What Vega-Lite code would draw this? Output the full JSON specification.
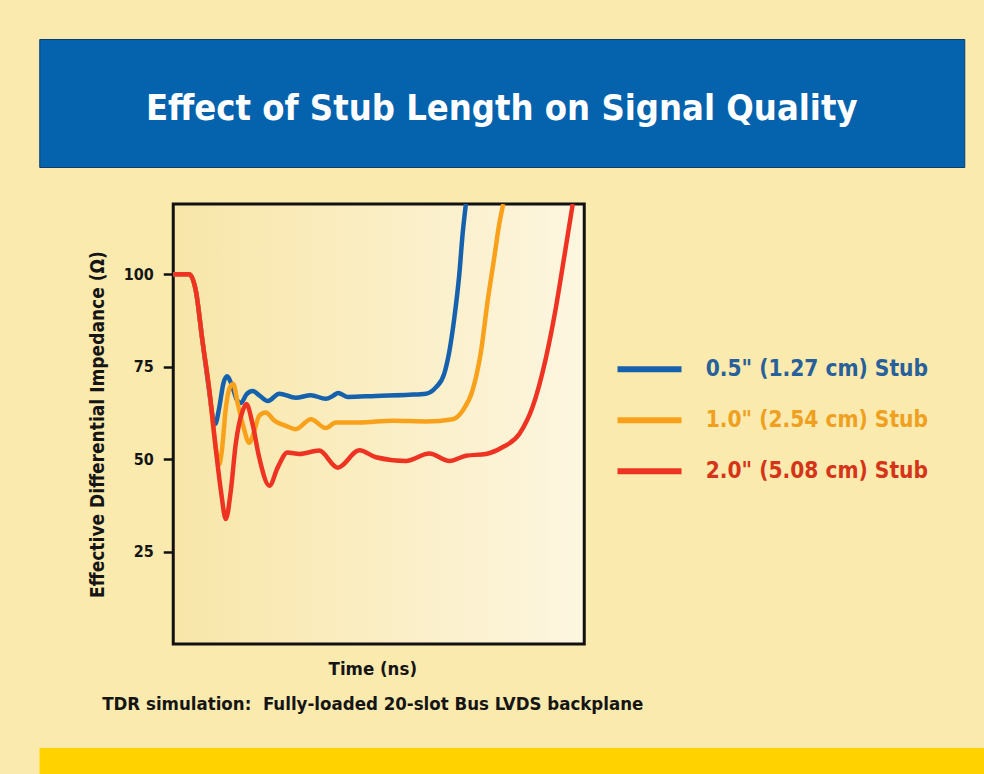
{
  "$schema": "https://vega.github.io/schema/vega-lite/v6.json",
  "background": "#faeaae",
  "padding": {"left": 38, "top": 38, "right": 30, "bottom": 10},
  "center": true,
  "spacing": 34,
  "resolve": {"legend": {"color": "independent"}},
  "vconcat": [
    {
      "width": 925,
      "height": 128,
      "view": {"fill": "#0563ae", "stroke": "#0b3d72", "strokeWidth": 1},
      "title": {"text": " ", "orient": "right", "offset": 89, "color": "transparent", "fontSize": 10},
      "data": {"values": [{"title": "Effect of Stub Length on Signal Quality"}]},
      "mark": {"type": "text", "font": "DejaVu Sans Condensed", "fontWeight": "bold", "fontSize": 36, "color": "#ffffff", "baseline": "alphabetic", "dy": 17},
      "encoding": {"text": {"field": "title"}}
    },
    {
      "width": 411,
      "height": 440,
      "view": {
        "stroke": "#111111",
        "strokeWidth": 3,
        "fill": {"gradient": "linear", "x1": 0, "y1": 0, "x2": 1, "y2": 0, "stops": [{"offset": 0, "color": "#f8e6a8"}, {"offset": 1, "color": "#fdf6e0"}]}
      },
      "data": {"values": [
        {"s": "0.5\" (1.27 cm) Stub", "t": 0, "v": 100},
        {"s": "0.5\" (1.27 cm) Stub", "t": 0.39, "v": 100},
        {"s": "0.5\" (1.27 cm) Stub", "t": 0.55, "v": 95.5},
        {"s": "0.5\" (1.27 cm) Stub", "t": 0.71, "v": 82},
        {"s": "0.5\" (1.27 cm) Stub", "t": 0.88, "v": 67.8},
        {"s": "0.5\" (1.27 cm) Stub", "t": 0.96, "v": 61.5},
        {"s": "0.5\" (1.27 cm) Stub", "t": 1.02, "v": 59.5},
        {"s": "0.5\" (1.27 cm) Stub", "t": 1.12, "v": 64},
        {"s": "0.5\" (1.27 cm) Stub", "t": 1.22, "v": 70.5},
        {"s": "0.5\" (1.27 cm) Stub", "t": 1.31, "v": 72.4},
        {"s": "0.5\" (1.27 cm) Stub", "t": 1.42, "v": 70.2},
        {"s": "0.5\" (1.27 cm) Stub", "t": 1.55, "v": 66},
        {"s": "0.5\" (1.27 cm) Stub", "t": 1.65, "v": 65.2},
        {"s": "0.5\" (1.27 cm) Stub", "t": 1.78, "v": 67.5},
        {"s": "0.5\" (1.27 cm) Stub", "t": 1.93, "v": 68.4},
        {"s": "0.5\" (1.27 cm) Stub", "t": 2.1, "v": 67.2},
        {"s": "0.5\" (1.27 cm) Stub", "t": 2.3, "v": 65.7},
        {"s": "0.5\" (1.27 cm) Stub", "t": 2.58, "v": 67.7},
        {"s": "0.5\" (1.27 cm) Stub", "t": 2.98, "v": 66.6},
        {"s": "0.5\" (1.27 cm) Stub", "t": 3.35, "v": 67.3},
        {"s": "0.5\" (1.27 cm) Stub", "t": 3.71, "v": 66.3},
        {"s": "0.5\" (1.27 cm) Stub", "t": 3.9, "v": 67.2},
        {"s": "0.5\" (1.27 cm) Stub", "t": 4.01, "v": 67.9},
        {"s": "0.5\" (1.27 cm) Stub", "t": 4.24, "v": 66.8},
        {"s": "0.5\" (1.27 cm) Stub", "t": 4.93, "v": 67.1},
        {"s": "0.5\" (1.27 cm) Stub", "t": 5.74, "v": 67.4},
        {"s": "0.5\" (1.27 cm) Stub", "t": 6.15, "v": 67.7},
        {"s": "0.5\" (1.27 cm) Stub", "t": 6.39, "v": 69.4},
        {"s": "0.5\" (1.27 cm) Stub", "t": 6.59, "v": 73},
        {"s": "0.5\" (1.27 cm) Stub", "t": 6.72, "v": 79.3},
        {"s": "0.5\" (1.27 cm) Stub", "t": 6.84, "v": 88.3},
        {"s": "0.5\" (1.27 cm) Stub", "t": 6.96, "v": 100},
        {"s": "0.5\" (1.27 cm) Stub", "t": 7.04, "v": 110.8},
        {"s": "0.5\" (1.27 cm) Stub", "t": 7.12, "v": 119},
        {"s": "1.0\" (2.54 cm) Stub", "t": 0, "v": 100},
        {"s": "1.0\" (2.54 cm) Stub", "t": 0.39, "v": 100},
        {"s": "1.0\" (2.54 cm) Stub", "t": 0.55, "v": 95.5},
        {"s": "1.0\" (2.54 cm) Stub", "t": 0.71, "v": 82},
        {"s": "1.0\" (2.54 cm) Stub", "t": 0.88, "v": 68.5},
        {"s": "1.0\" (2.54 cm) Stub", "t": 1.0, "v": 56},
        {"s": "1.0\" (2.54 cm) Stub", "t": 1.08, "v": 50},
        {"s": "1.0\" (2.54 cm) Stub", "t": 1.12, "v": 48.6},
        {"s": "1.0\" (2.54 cm) Stub", "t": 1.18, "v": 52},
        {"s": "1.0\" (2.54 cm) Stub", "t": 1.28, "v": 63.9},
        {"s": "1.0\" (2.54 cm) Stub", "t": 1.38, "v": 69.5},
        {"s": "1.0\" (2.54 cm) Stub", "t": 1.46, "v": 70.3},
        {"s": "1.0\" (2.54 cm) Stub", "t": 1.57, "v": 65},
        {"s": "1.0\" (2.54 cm) Stub", "t": 1.69, "v": 59.5},
        {"s": "1.0\" (2.54 cm) Stub", "t": 1.85, "v": 54.4},
        {"s": "1.0\" (2.54 cm) Stub", "t": 1.97, "v": 57.5},
        {"s": "1.0\" (2.54 cm) Stub", "t": 2.09, "v": 61.7},
        {"s": "1.0\" (2.54 cm) Stub", "t": 2.25, "v": 62.6},
        {"s": "1.0\" (2.54 cm) Stub", "t": 2.46, "v": 60.4},
        {"s": "1.0\" (2.54 cm) Stub", "t": 2.74, "v": 59},
        {"s": "1.0\" (2.54 cm) Stub", "t": 2.98, "v": 58.1},
        {"s": "1.0\" (2.54 cm) Stub", "t": 3.35, "v": 60.8},
        {"s": "1.0\" (2.54 cm) Stub", "t": 3.71, "v": 58.4},
        {"s": "1.0\" (2.54 cm) Stub", "t": 3.96, "v": 59.9},
        {"s": "1.0\" (2.54 cm) Stub", "t": 4.53, "v": 59.9},
        {"s": "1.0\" (2.54 cm) Stub", "t": 5.34, "v": 60.4},
        {"s": "1.0\" (2.54 cm) Stub", "t": 6.15, "v": 60.2},
        {"s": "1.0\" (2.54 cm) Stub", "t": 6.8, "v": 60.8},
        {"s": "1.0\" (2.54 cm) Stub", "t": 7.04, "v": 63.1},
        {"s": "1.0\" (2.54 cm) Stub", "t": 7.28, "v": 68.5},
        {"s": "1.0\" (2.54 cm) Stub", "t": 7.49, "v": 79.3},
        {"s": "1.0\" (2.54 cm) Stub", "t": 7.65, "v": 92.8},
        {"s": "1.0\" (2.54 cm) Stub", "t": 7.81, "v": 104.5},
        {"s": "1.0\" (2.54 cm) Stub", "t": 7.93, "v": 113.5},
        {"s": "1.0\" (2.54 cm) Stub", "t": 8.03, "v": 119},
        {"s": "2.0\" (5.08 cm) Stub", "t": 0, "v": 100},
        {"s": "2.0\" (5.08 cm) Stub", "t": 0.39, "v": 100},
        {"s": "2.0\" (5.08 cm) Stub", "t": 0.55, "v": 95.5},
        {"s": "2.0\" (5.08 cm) Stub", "t": 0.71, "v": 82},
        {"s": "2.0\" (5.08 cm) Stub", "t": 0.88, "v": 68.5},
        {"s": "2.0\" (5.08 cm) Stub", "t": 1.04, "v": 52.3},
        {"s": "2.0\" (5.08 cm) Stub", "t": 1.16, "v": 41.4},
        {"s": "2.0\" (5.08 cm) Stub", "t": 1.28, "v": 33.8},
        {"s": "2.0\" (5.08 cm) Stub", "t": 1.4, "v": 41.4},
        {"s": "2.0\" (5.08 cm) Stub", "t": 1.52, "v": 54.1},
        {"s": "2.0\" (5.08 cm) Stub", "t": 1.69, "v": 63.1},
        {"s": "2.0\" (5.08 cm) Stub", "t": 1.78, "v": 64.9},
        {"s": "2.0\" (5.08 cm) Stub", "t": 1.93, "v": 59.5},
        {"s": "2.0\" (5.08 cm) Stub", "t": 2.09, "v": 50.5},
        {"s": "2.0\" (5.08 cm) Stub", "t": 2.34, "v": 42.8},
        {"s": "2.0\" (5.08 cm) Stub", "t": 2.54, "v": 47.7},
        {"s": "2.0\" (5.08 cm) Stub", "t": 2.78, "v": 51.8},
        {"s": "2.0\" (5.08 cm) Stub", "t": 3.07, "v": 51.4},
        {"s": "2.0\" (5.08 cm) Stub", "t": 3.55, "v": 52.3},
        {"s": "2.0\" (5.08 cm) Stub", "t": 4.0, "v": 47.7},
        {"s": "2.0\" (5.08 cm) Stub", "t": 4.53, "v": 52.4},
        {"s": "2.0\" (5.08 cm) Stub", "t": 4.93, "v": 50.5},
        {"s": "2.0\" (5.08 cm) Stub", "t": 5.66, "v": 49.5},
        {"s": "2.0\" (5.08 cm) Stub", "t": 6.23, "v": 51.5},
        {"s": "2.0\" (5.08 cm) Stub", "t": 6.72, "v": 49.5},
        {"s": "2.0\" (5.08 cm) Stub", "t": 7.12, "v": 50.9},
        {"s": "2.0\" (5.08 cm) Stub", "t": 7.61, "v": 51.4},
        {"s": "2.0\" (5.08 cm) Stub", "t": 8.01, "v": 53.2},
        {"s": "2.0\" (5.08 cm) Stub", "t": 8.42, "v": 56.8},
        {"s": "2.0\" (5.08 cm) Stub", "t": 8.74, "v": 64},
        {"s": "2.0\" (5.08 cm) Stub", "t": 9.07, "v": 77.5},
        {"s": "2.0\" (5.08 cm) Stub", "t": 9.31, "v": 91},
        {"s": "2.0\" (5.08 cm) Stub", "t": 9.51, "v": 104.5},
        {"s": "2.0\" (5.08 cm) Stub", "t": 9.72, "v": 119}
      ]},
      "mark": {"type": "line", "interpolate": "monotone", "strokeWidth": 4.5, "clip": true},
      "encoding": {
        "x": {
          "field": "t", "type": "quantitative",
          "scale": {"domain": [0, 10], "nice": false, "zero": false},
          "axis": {
            "title": ["Time (ns)", "TDR simulation:\u00a0 Fully-loaded 20-slot Bus LVDS backplane"],
            "labels": false, "ticks": false, "domain": false, "grid": false,
            "titleX": 199,
            "titlePadding": 15, "titleFont": "DejaVu Sans Condensed", "titleFontWeight": "bold",
            "titleFontSize": 18.5, "titleLineHeight": 35, "titleColor": "#151515"
          }
        },
        "y": {
          "field": "v", "type": "quantitative",
          "scale": {"domain": [0, 119], "nice": false, "zero": true},
          "axis": {
            "title": "Effective Differential Impedance (Ω)",
            "values": [25, 50, 75, 100],
            "domain": false, "grid": false,
            "tickSize": 10, "tickWidth": 2.5, "tickColor": "#111111",
            "labelPadding": 10, "labelFont": "DejaVu Sans Condensed", "labelFontWeight": "bold",
            "labelFontSize": 16, "labelColor": "#151515",
            "titlePadding": 16, "titleFont": "DejaVu Sans Condensed", "titleFontWeight": "bold",
            "titleFontSize": 19, "titleColor": "#151515"
          }
        },
        "color": {
          "field": "s", "type": "nominal",
          "scale": {
            "domain": ["0.5\" (1.27 cm) Stub", "1.0\" (2.54 cm) Stub", "2.0\" (5.08 cm) Stub"],
            "range": ["#1561ad", "#f9a11b", "#ee3322"]
          },
          "legend": {
            "title": null, "orient": "none", "legendX": 465, "legendY": 154,
            "symbolType": "M-4,0H4", "symbolSize": 256, "symbolStrokeWidth": 6,
            "labelFont": "DejaVu Sans Condensed", "labelFontWeight": "bold", "labelFontSize": 22.5,
            "labelLimit": 0, "labelOffset": 45, "rowPadding": 26,
            "labelColor": {"expr": "datum.index == 0 ? '#27609a' : datum.index == 1 ? '#efa020' : '#d63418'"}
          }
        }
      }
    },
    {
      "width": 1024,
      "height": 30,
      "view": {"fill": "#ffd200", "stroke": null},
      "data": {"values": [{"note": ""}]},
      "mark": {"type": "text"},
      "encoding": {"text": {"field": "note"}}
    }
  ]
}
